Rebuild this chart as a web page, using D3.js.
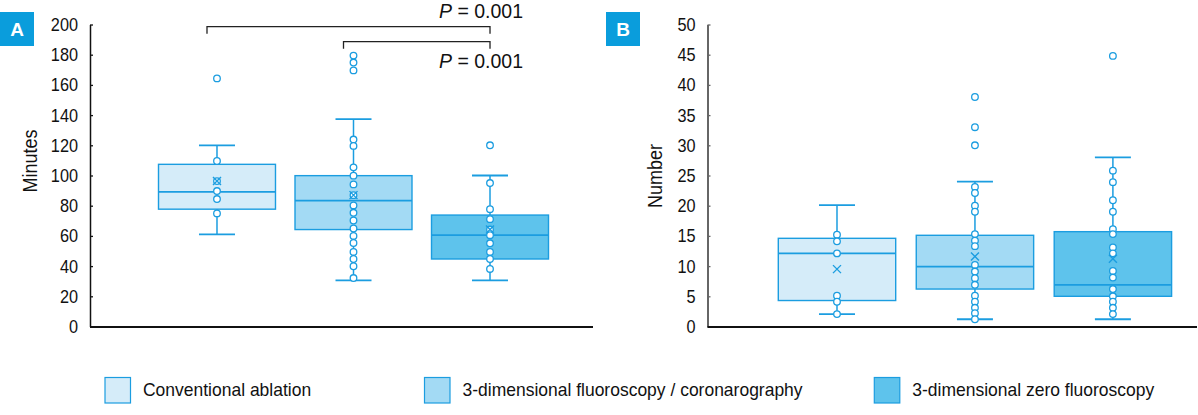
<!DOCTYPE html>
<html>
<head>
<meta charset="utf-8">
<script src="https://cdn.jsdelivr.net/npm/d3@7"></script>
<style>
  body { margin: 0; background: #fff; }
  svg text { font-family: "Liberation Sans", Arial, sans-serif; fill: #111; }
</style>
</head>
<body>
<svg id="chart" width="1198" height="415"></svg>
<script>
// groups and colours
var groups = ["Conventional ablation", "3-dimensional fluoroscopy / coronarography", "3-dimensional zero fluoroscopy"];
var fills = ["#d5ecf9", "#a3daf4", "#5ec3ec"];

// panel A: procedure time (minutes)
var minutesTicks = [0, 20, 40, 60, 80, 100, 120, 140, 160, 180, 200];
var minutesLow = [61, 30.6, 30.6];
var minutesQ1 = [77.7, 64.2, 44.7];
var minutesMedian = [89.2, 83.3, 60.5];
var minutesQ3 = [107.4, 99.9, 73.8];
var minutesHigh = [120, 137.3, 100];
var minutesMean = [96.3, 87, 64.2];
var minutesPoints = [
  [164.3, 109.6, 96.3, 89.7, 84.4, 74.9],
  [179.4, 174.8, 169.6, 123.8, 119.6, 105.4, 99.9, 94.1, 87, 80.2, 75.3, 70.2, 64.9, 60, 55.3, 49.4, 44.7, 39.9, 32.1],
  [120, 95, 77.7, 71.1, 64.2, 60.5, 55.1, 49.4, 44.7, 38.1]
];

// panel B: number (count)
var numberTicks = [0, 5, 10, 15, 20, 25, 30, 35, 40, 45, 50];
var numberLow = [2.05, 1.2, 1.2];
var numberQ1 = [4.3, 6.2, 5.0];
var numberMedian = [12.1, 9.9, 6.9];
var numberQ3 = [14.6, 15.1, 15.7];
var numberHigh = [20.1, 24, 28];
var numberMean = [9.5, 11.6, 11.2];
var numberPoints = [
  [15.2, 14.1, 12.1, 5.1, 4.1, 2.05],
  [38, 33, 30, 23.1, 22.1, 20, 19, 15.3, 14.2, 13.3, 10.2, 9.1, 8, 6.9, 5.1, 4.1, 3.1, 2.2, 1.2],
  [44.8, 25.8, 23.9, 20.9, 19, 16.1, 15.3, 13.1, 12.1, 9.2, 8.1, 6.2, 5.0, 4.1, 3.1, 2.05]
];

// significance brackets on panel A (group indices)
var brackets = [
  {from: 0, to: 2, level: 26.7, label: "0.001", labelY: 18},
  {from: 1, to: 2, level: 41.7, label: "0.001", labelY: 68}
];

var stroke = "#1b9de0";
var svg = d3.select("#chart");

// squeeze text horizontally to mimic the condensed face of the original
function condense(sel, f) {
  sel.each(function() {
    var w = this.getComputedTextLength();
    d3.select(this).attr("textLength", w * f).attr("lengthAdjust", "spacingAndGlyphs");
  });
}

function panel(opt) {
  var y = d3.scaleLinear().domain([0, opt.max]).range([326.5, 24.5]);
  var x = d3.scaleBand().domain(groups).range(opt.xr).paddingInner(opt.pad);
  var g = svg.append("g");

  // y axis
  var ax = g.append("g")
    .attr("transform", "translate(" + opt.axisX + ",0)")
    .call(d3.axisLeft(y).tickValues(opt.ticks).tickSizeInner(-3).tickSizeOuter(0).tickPadding(12));
  ax.select(".domain").attr("stroke", opt.axisColor).attr("stroke-width", opt.axisW);
  ax.selectAll(".tick line").attr("stroke", opt.axisColor).attr("stroke-width", 1.3);
  ax.selectAll(".tick text").style("font-size", "18.5px").style("font-family", "Liberation Sans, Arial, sans-serif").attr("fill", "#111");
  condense(ax.selectAll(".tick text"), 0.88);

  // x baseline
  g.append("line")
    .attr("x1", opt.axisX).attr("x2", opt.xEnd)
    .attr("y1", y(0) + 0.5).attr("y2", y(0) + 0.5)
    .attr("stroke", "#111").attr("stroke-width", 2);

  // axis title
  var tt = g.append("text")
    .attr("transform", "translate(" + opt.titleX + "," + opt.titleY + ") rotate(-90)")
    .attr("text-anchor", "middle")
    .style("font-size", "21px")
    .text(opt.title);
  condense(tt, 0.86);

  // panel letter
  g.append("rect").attr("x", opt.letterX).attr("y", 12).attr("width", 34).attr("height", 34).attr("fill", "#0a9ddc");
  g.append("text").attr("x", opt.letterX + 17).attr("y", 36).attr("text-anchor", "middle")
    .style("font-size", "19px").style("font-weight", "bold").style("fill", "#fff").text(opt.letter);

  var bw = x.bandwidth();
  groups.forEach(function(d, i) {
    var cx = x(d) + bw / 2;
    var bg = g.append("g");
    // whiskers
    bg.append("line").attr("x1", cx).attr("x2", cx).attr("y1", y(opt.q3[i])).attr("y2", y(opt.high[i]))
      .attr("stroke", stroke).attr("stroke-width", 1.5);
    bg.append("line").attr("x1", cx).attr("x2", cx).attr("y1", y(opt.q1[i])).attr("y2", y(opt.low[i]))
      .attr("stroke", stroke).attr("stroke-width", 1.5);
    [opt.high[i], opt.low[i]].forEach(function(v) {
      bg.append("line").attr("x1", cx - 18).attr("x2", cx + 18).attr("y1", y(v)).attr("y2", y(v))
        .attr("stroke", stroke).attr("stroke-width", 1.8);
    });
    // box
    bg.append("rect").attr("x", x(d)).attr("y", y(opt.q3[i]))
      .attr("width", bw).attr("height", y(opt.q1[i]) - y(opt.q3[i]))
      .attr("fill", fills[i]).attr("stroke", stroke).attr("stroke-width", 1.4);
    bg.append("line").attr("x1", x(d)).attr("x2", x(d) + bw).attr("y1", y(opt.median[i])).attr("y2", y(opt.median[i]))
      .attr("stroke", stroke).attr("stroke-width", 1.8);
    // points
    bg.selectAll("circle").data(opt.points[i]).enter().append("circle")
      .attr("cx", cx).attr("cy", function(v) { return y(v); }).attr("r", 3.3)
      .attr("fill", "#fff").attr("stroke", stroke).attr("stroke-width", 1.3);
    // mean cross
    var my = y(opt.mean[i]), s = 4;
    bg.append("path")
      .attr("d", "M" + (cx - s) + "," + (my - s) + "L" + (cx + s) + "," + (my + s) + "M" + (cx - s) + "," + (my + s) + "L" + (cx + s) + "," + (my - s))
      .attr("stroke", stroke).attr("stroke-width", 1.4).attr("fill", "none");
  });
  return {x: x, y: y};
}

var A = panel({
  max: 200, ticks: minutesTicks, low: minutesLow, q1: minutesQ1, median: minutesMedian, q3: minutesQ3,
  high: minutesHigh, mean: minutesMean, points: minutesPoints,
  xr: [158.5, 548.5], pad: 0.143, axisX: 90, xEnd: 593, axisColor: "#111", axisW: 1.5,
  title: "Minutes", titleX: 37, titleY: 161, letter: "A", letterX: 0
});

var B = panel({
  max: 50, ticks: numberTicks, low: numberLow, q1: numberQ1, median: numberMedian, q3: numberQ3,
  high: numberHigh, mean: numberMean, points: numberPoints,
  xr: [778.3, 1171.6], pad: 0.149, axisX: 707.5, xEnd: 1197, axisColor: "#666", axisW: 2,
  title: "Number", titleX: 661.5, titleY: 176, letter: "B", letterX: 606
});

// brackets: left foot sits a little left of the box centre, as in the original
brackets.forEach(function(b) {
  var x1 = A.x(groups[b.from]) + A.x.bandwidth() / 2 - 10;
  var x2 = A.x(groups[b.to]) + A.x.bandwidth() / 2;
  svg.append("path")
    .attr("d", "M" + x1 + "," + (b.level + 7) + "V" + b.level + "H" + x2 + "V" + (b.level + 7))
    .attr("fill", "none").attr("stroke", "#222").attr("stroke-width", 1.3);
  var t = svg.append("text").attr("x", 523).attr("y", b.labelY).attr("text-anchor", "end")
    .style("font-size", "19.5px");
  t.append("tspan").style("font-style", "italic").text("P");
  t.append("tspan").text(" = " + b.label);
});

// legend
var legendX = [105, 424.5, 874.3];
var lg = svg.append("g");
groups.forEach(function(d, i) {
  lg.append("rect").attr("x", legendX[i]).attr("y", 377.5).attr("width", 25.5).attr("height", 25.5)
    .attr("fill", fills[i]).attr("stroke", stroke).attr("stroke-width", 1.2);
  var t = lg.append("text").attr("x", legendX[i] + 38).attr("y", 396).style("font-size", "19px").text(d);
  condense(t, 0.92);
});
</script>
</body>
</html>
